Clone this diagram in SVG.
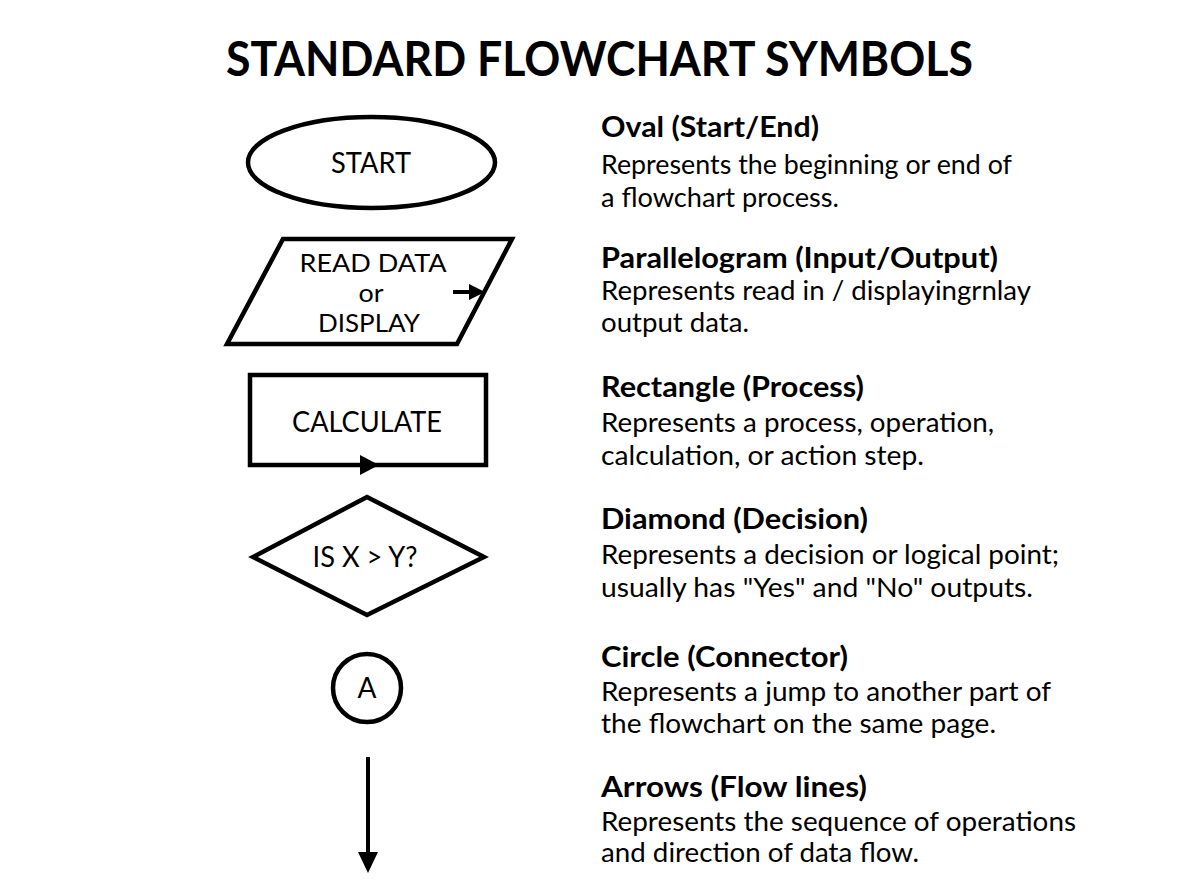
<svg xmlns="http://www.w3.org/2000/svg" width="1200" height="896" viewBox="0 0 1200 896">
  <defs>
    <style>
      .shape { fill: #ffffff; stroke: #000000; stroke-width: 4.5; stroke-linejoin: miter; }
      .line { fill: none; stroke: #000000; stroke-width: 4; }
      .head { fill: #000000; stroke: none; }
      .lbl { font-family: Lato, "Liberation Sans", sans-serif; font-size: 28px; fill: #000000; text-anchor: middle; }
      .lbl2 { font-family: Lato, "Liberation Sans", sans-serif; font-size: 25px; fill: #000000; text-anchor: middle; }
      .ttl { font-family: Lato, "Liberation Sans", sans-serif; font-size: 47px; font-weight: 700; fill: #000000; }
      .hd { font-family: Lato, "Liberation Sans", sans-serif; font-size: 29px; font-weight: 700; fill: #000000; }
      .tx { font-family: Lato, "Liberation Sans", sans-serif; font-size: 26.5px; fill: #000000; }
    </style>
  </defs>
  <rect x="0" y="0" width="1200" height="896" fill="#ffffff"/>

  <text id="title" class="ttl" x="226" y="76" textLength="747" lengthAdjust="spacingAndGlyphs">STANDARD FLOWCHART SYMBOLS</text>

  <g id="oval">
    <ellipse class="shape" cx="371.5" cy="162.5" rx="123.5" ry="45.5" stroke-width="4"/>
    <text class="lbl" x="371" y="173" textLength="80" lengthAdjust="spacingAndGlyphs">START</text>
  </g>
  <g id="oval-desc">
    <text class="hd" x="601" y="137" textLength="218" lengthAdjust="spacingAndGlyphs">Oval (Start/End)</text>
    <text class="tx" x="601" y="174" textLength="411" lengthAdjust="spacingAndGlyphs">Represents the beginning or end of</text>
    <text class="tx" x="601" y="207" textLength="238" lengthAdjust="spacingAndGlyphs">a flowchart process.</text>
  </g>

  <g id="parallelogram">
    <polygon class="shape" points="283,239 512,239 457,344 227,344"/>
    <text class="lbl2" x="373" y="272" textLength="147" lengthAdjust="spacingAndGlyphs">READ DATA</text>
    <text class="lbl2" x="371" y="302" textLength="25" lengthAdjust="spacingAndGlyphs">or</text>
    <text class="lbl2" x="369" y="332" textLength="102" lengthAdjust="spacingAndGlyphs">DISPLAY</text>
    <line class="line" x1="453" y1="292" x2="472" y2="292" stroke-width="3.5"/>
    <polygon class="head" points="469,284 485,292 469,300"/>
  </g>
  <g id="parallelogram-desc">
    <text class="hd" x="601" y="268" textLength="397" lengthAdjust="spacingAndGlyphs">Parallelogram (Input/Output)</text>
    <text class="tx" x="601" y="300" textLength="430" lengthAdjust="spacingAndGlyphs">Represents read in / displayingrnlay</text>
    <text class="tx" x="601" y="332" textLength="148" lengthAdjust="spacingAndGlyphs">output data.</text>
  </g>

  <g id="rectangle">
    <rect class="shape" x="250" y="375" width="236" height="90"/>
    <text class="lbl" x="367" y="432" textLength="150" lengthAdjust="spacingAndGlyphs">CALCULATE</text>
    <polygon class="head" points="360,455 379,465 360,475"/>
  </g>
  <g id="rectangle-desc">
    <text class="hd" x="601" y="397" textLength="263" lengthAdjust="spacingAndGlyphs">Rectangle (Process)</text>
    <text class="tx" x="601" y="432" textLength="393" lengthAdjust="spacingAndGlyphs">Represents a process, operation,</text>
    <text class="tx" x="601" y="465" textLength="323" lengthAdjust="spacingAndGlyphs">calculation, or action step.</text>
  </g>

  <g id="diamond">
    <polygon class="shape" points="367,497 484,557 367,615 253,557" stroke-width="4"/>
    <text class="lbl" x="365" y="567" textLength="105" lengthAdjust="spacingAndGlyphs">IS X &gt; Y?</text>
  </g>
  <g id="diamond-desc">
    <text class="hd" x="601" y="529" textLength="267" lengthAdjust="spacingAndGlyphs">Diamond (Decision)</text>
    <text class="tx" x="601" y="564" textLength="458" lengthAdjust="spacingAndGlyphs">Represents a decision or logical point;</text>
    <text class="tx" x="601" y="597" textLength="432" lengthAdjust="spacingAndGlyphs">usually has "Yes" and "No" outputs.</text>
  </g>

  <g id="circle">
    <circle class="shape" cx="367" cy="688" r="34" stroke-width="4"/>
    <text class="lbl" x="367" y="698">A</text>
  </g>
  <g id="circle-desc">
    <text class="hd" x="601" y="667" textLength="247" lengthAdjust="spacingAndGlyphs">Circle (Connector)</text>
    <text class="tx" x="601" y="701" textLength="450" lengthAdjust="spacingAndGlyphs">Represents a jump to another part of</text>
    <text class="tx" x="601" y="733" textLength="395" lengthAdjust="spacingAndGlyphs">the flowchart on the same page.</text>
  </g>

  <g id="arrow-symbol">
    <line class="line" x1="368" y1="757" x2="368" y2="856"/>
    <polygon class="head" points="358,852 378,852 368,873"/>
  </g>
  <g id="arrow-desc">
    <text class="hd" x="601" y="797" textLength="266" lengthAdjust="spacingAndGlyphs">Arrows (Flow lines)</text>
    <text class="tx" x="601" y="831" textLength="475" lengthAdjust="spacingAndGlyphs">Represents the sequence of operations</text>
    <text class="tx" x="601" y="862" textLength="318" lengthAdjust="spacingAndGlyphs">and direction of data flow.</text>
  </g>

  <g id="connectors"></g>
</svg>
